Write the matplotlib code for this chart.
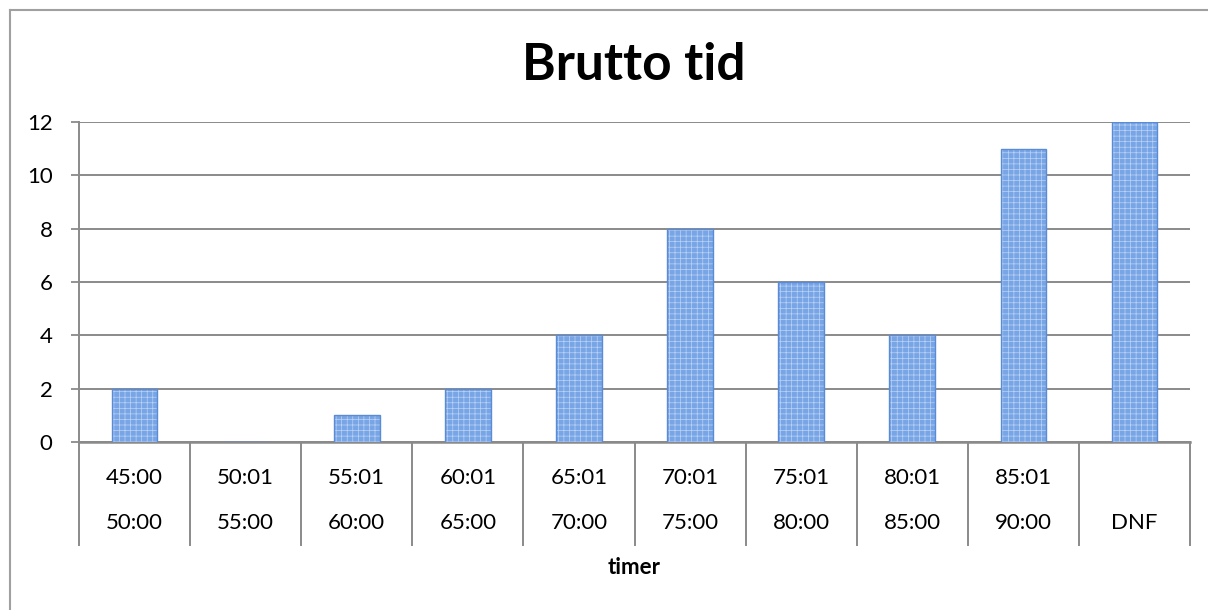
import matplotlib
matplotlib.use("Agg")
import matplotlib.pyplot as plt
from matplotlib.lines import Line2D
import matplotlib.transforms as mtransforms

plt.rcParams['font.family'] = ['Lato', 'DejaVu Sans']
plt.rcParams['hatch.linewidth'] = 0.5

row1 = ["45:00", "50:01", "55:01", "60:01", "65:01", "70:01", "75:01", "80:01", "85:01", ""]
row2 = ["50:00", "55:00", "60:00", "65:00", "70:00", "75:00", "80:00", "85:00", "90:00", "DNF"]
values = [2, 0, 1, 2, 4, 8, 6, 4, 11, 12]
title = "Brutto tid"
xlabel = "timer"
yticks = [0, 2, 4, 6, 8, 10, 12]

fig = plt.figure(figsize=(12.08, 6.10), dpi=100)
W, H = 1208, 610
ax = fig.add_axes([79 / W, 1 - 442 / H, (1190 - 79) / W, (442 - 122) / H])

n = len(values)
xs = list(range(n))
grid_c = '#8a8a8a'

ax.bar(xs, values, width=0.41, color='#77a5e6', edgecolor='#bcd3f3', hatch='+++', linewidth=0, zorder=3)
ax.bar(xs, values, width=0.41, fill=False, edgecolor='#5a8bd6', linewidth=1.0, zorder=4)

ax.set_xlim(-0.5, n - 0.5)
ax.set_ylim(0, 12)
ax.set_yticks(yticks)
ax.set_yticklabels([str(v) for v in yticks], fontsize=16)
ax.tick_params(axis='y', length=6, width=1.3, color=grid_c, pad=13)
ax.set_xticks([])
ax.grid(axis='y', color=grid_c, linewidth=1.4, zorder=0)
for s in ['top', 'right']:
    ax.spines[s].set_visible(False)
ax.spines['left'].set_color(grid_c)
ax.spines['left'].set_linewidth(1.4)
ax.spines['bottom'].set_color(grid_c)
ax.spines['bottom'].set_linewidth(1.8)

trans = mtransforms.blended_transform_factory(ax.transData, ax.transAxes)
y_sep = (442 - 545) / 320
for i in range(n + 1):
    ax.add_line(Line2D([i - 0.5, i - 0.5], [0, y_sep], transform=trans,
                       color=grid_c, linewidth=1.4, clip_on=False))
y1 = (442 - 478) / 320
y2 = (442 - 523) / 320
for i in range(n):
    ax.text(i, y1, row1[i], transform=trans, ha='center', va='center', fontsize=16)
    ax.text(i, y2, row2[i], transform=trans, ha='center', va='center', fontsize=16)

ax.text(0.5, (442 - 568) / 320, xlabel, transform=ax.transAxes, ha='center', va='center',
        fontsize=16, fontweight='bold')

fig.text(634 / W, 1 - 66 / H, title, ha='center', va='center', fontsize=37, fontweight='bold')

fig.add_artist(Line2D([10 / W, 10 / W], [0, 1 - 10 / H], transform=fig.transFigure,
                      color='#a0a0a0', linewidth=1.5))
fig.add_artist(Line2D([10 / W, 1], [1 - 10 / H, 1 - 10 / H], transform=fig.transFigure,
                      color='#a0a0a0', linewidth=1.5))

fig.savefig("out.png", dpi=100)
